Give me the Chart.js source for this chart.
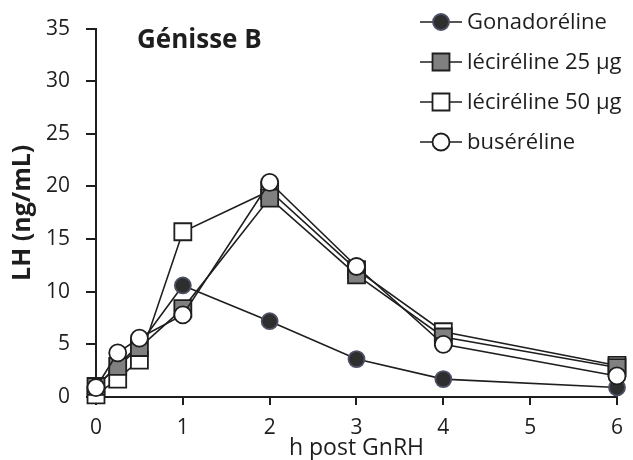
<!DOCTYPE html>
<html>
<head>
<meta charset="utf-8">
<script src="https://cdn.jsdelivr.net/npm/chart.js@4"></script>
<style>
  html, body { margin: 0; padding: 0; background: #fff; }
  #wrap { width: 633px; height: 460px; }
</style>
</head>
<body>
<div id="wrap"><canvas id="c" width="633" height="460"></canvas></div>
<script>
// ---- data ----
const hours = [0, 0.25, 0.5, 1, 2, 3, 4, 6];
const gonadoreline = [1.0, 3.0, 5.0, 10.6, 7.2, 3.6, 1.7, 0.9];
const lecireline25 = [1.0, 2.9, 4.7, 8.4, 18.9, 11.6, 5.7, 2.8];
const lecireline50 = [0.2, 1.7, 3.5, 15.7, 19.6, 12.1, 6.2, 3.0];
const buserelin = [0.9, 4.2, 5.6, 7.8, 20.4, 12.4, 5.0, 2.0];
const seriesNames = ['Gonadoréline', 'léciréline 25 µg', 'léciréline 50 µg', 'buséréline'];
const panelTitle = 'Génisse B';
const xTitle = 'h post GnRH';
const yTitle = 'LH (ng/mL)';

const FONT = "'Open Sans', 'Noto Sans', sans-serif";
const INK = '#1e1e1e';

function pts(arr) { return hours.map((h, i) => ({ x: h, y: arr[i] })); }

const styles = [
  { pointStyle: 'circle', radius: 8, bg: '#2e2e2e', border: '#4d5066', order: 4 },
  { pointStyle: 'rect', radius: 12, bg: '#808080', border: '#1e1e1e', order: 2 },
  { pointStyle: 'rect', radius: 12, bg: '#ffffff', border: '#1e1e1e', order: 3 },
  { pointStyle: 'circle', radius: 8.5, bg: '#ffffff', border: '#1e1e1e', order: 1 }
];
const seriesData = [gonadoreline, lecireline25, lecireline50, buserelin];

const datasets = seriesData.map((arr, i) => ({
  label: seriesNames[i],
  data: pts(arr),
  borderColor: INK,
  borderWidth: 1.6,
  pointStyle: styles[i].pointStyle,
  pointRadius: styles[i].radius,
  pointHoverRadius: styles[i].radius,
  pointBackgroundColor: styles[i].bg,
  pointBorderColor: styles[i].border,
  pointBorderWidth: 1.8,
  order: styles[i].order,
  clip: false,
  tension: 0
}));

const annotate = {
  id: 'annotate',
  afterDraw(chart) {
    const ctx = chart.ctx;
    const area = chart.chartArea;
    ctx.save();
    // panel title
    ctx.fillStyle = INK;
    ctx.font = "bold 26px " + FONT;
    ctx.textAlign = 'left';
    ctx.textBaseline = 'middle';
    ctx.fillText(panelTitle, area.left + 41, area.top + 12);
    // legend
    const lx0 = 420, lx1 = 462, mx = 441, tx = 467;
    const ly = [22, 62, 102, 142];
    ctx.font = "22px " + FONT;
    seriesNames.forEach((name, i) => {
      const y = ly[i];
      ctx.strokeStyle = INK;
      ctx.lineWidth = 1.6;
      ctx.beginPath();
      ctx.moveTo(lx0, y);
      ctx.lineTo(lx1, y);
      ctx.stroke();
      ctx.fillStyle = styles[i].bg;
      ctx.strokeStyle = styles[i].border;
      ctx.lineWidth = 1.8;
      Chart.helpers.drawPoint(ctx, {
        pointStyle: styles[i].pointStyle,
        radius: styles[i].radius,
        rotation: 0,
        borderWidth: 1.8
      }, mx, y);
      ctx.fillStyle = INK;
      ctx.textAlign = 'left';
      ctx.textBaseline = 'middle';
      ctx.fillText(name, tx, y + 1);
    });
    ctx.restore();
  }
};

const chart = new Chart(document.getElementById('c'), {
  type: 'line',
  data: { datasets },
  options: {
    responsive: false,
    animation: false,
    devicePixelRatio: 1,
    layout: { padding: { left: 4, right: 12, top: 22, bottom: 0 } },
    plugins: {
      legend: { display: false },
      tooltip: { enabled: false },
      title: { display: false }
    },
    scales: {
      x: {
        type: 'linear',
        min: 0,
        max: 6,
        ticks: {
          stepSize: 1,
          color: INK,
          font: { family: FONT, size: 21 },
          padding: 10,
          maxRotation: 0
        },
        grid: {
          drawOnChartArea: false,
          drawTicks: true,
          tickLength: 8,
          color: INK,
          lineWidth: 2
        },
        border: { display: true, color: INK, width: 2 },
        title: {
          display: true,
          text: xTitle,
          color: INK,
          font: { family: FONT, size: 23, lineHeight: 1 },
          padding: { top: 0, bottom: 0 }
        },
        afterFit(scale) { scale.height = 63; }
      },
      y: {
        type: 'linear',
        min: 0,
        max: 35,
        ticks: {
          stepSize: 5,
          color: INK,
          font: { family: FONT, size: 21 },
          padding: 16
        },
        grid: {
          drawOnChartArea: false,
          drawTicks: true,
          tickLength: 10,
          color: INK,
          lineWidth: 2
        },
        border: { display: true, color: INK, width: 2 },
        title: {
          display: true,
          text: yTitle,
          color: INK,
          font: { family: FONT, size: 25, weight: 'bold' },
          padding: { top: 4, bottom: 4 }
        },
        afterFit(scale) { scale.width = 92; }
      }
    }
  },
  plugins: [annotate]
});
</script>
</body>
</html>
